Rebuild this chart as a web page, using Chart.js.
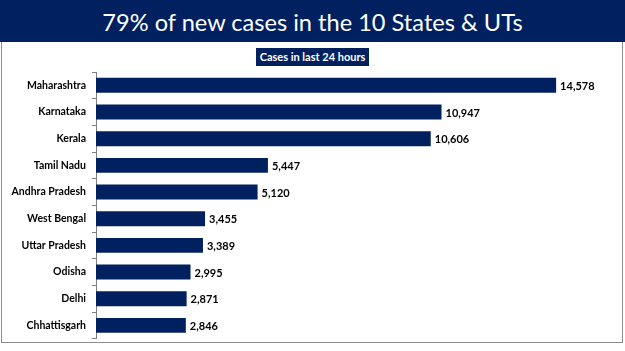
<!DOCTYPE html>
<html>
<head>
<meta charset="utf-8">
<script src="https://cdn.jsdelivr.net/npm/chart.js@4"></script>
<style>
  body { margin: 0; background: #fff; }
  #wrap { position: relative; width: 625px; height: 351px; overflow: hidden; background: #fff; }
  #banner {
    position: absolute; left: 0; top: 0; width: 625px; height: 42px;
    background: #002060; color: #fff;
    font-family: Lato, sans-serif; font-size: 23.6px; line-height: 44px;
    text-align: center;
  }
  #frame {
    position: absolute; left: 1px; top: 42px; width: 620px; height: 300px;
    border: 1px solid #8c8c8c; border-top: none;
  }
  #sub {
    position: absolute; left: 256px; top: 48px; width: 113px; height: 18px;
    background: #002060; color: #fff;
    font-family: Lato, sans-serif; font-weight: bold; font-size: 11px; line-height: 18px;
    text-align: center; white-space: nowrap;
  }
  #chart { position: absolute; left: 0; top: 0; }
</style>
</head>
<body>
<div id="wrap">
  <div id="banner">79% of new cases in the 10 States &amp; UTs</div>
  <div id="frame"></div>
  <div id="sub">Cases in last 24 hours</div>
  <canvas id="chart" width="625" height="351"></canvas>
</div>
<script>
const states = ['Maharashtra', 'Karnataka', 'Kerala', 'Tamil Nadu', 'Andhra Pradesh',
  'West Bengal', 'Uttar Pradesh', 'Odisha', 'Delhi', 'Chhattisgarh'];
const cases = [14578, 10947, 10606, 5447, 5120, 3455, 3389, 2995, 2871, 2846];

// value labels at the end of each bar
const barLabels = {
  id: 'barLabels',
  afterDatasetsDraw(chart) {
    const ctx = chart.ctx;
    const meta = chart.getDatasetMeta(0);
    ctx.save();
    ctx.font = 'bold 11px Lato, sans-serif';
    ctx.fillStyle = '#000';
    ctx.textBaseline = 'middle';
    meta.data.forEach((bar, i) => {
      ctx.fillText(cases[i].toLocaleString('en-US'), bar.x + 4, bar.y + 1);
    });
    ctx.restore();
  }
};

new Chart(document.getElementById('chart'), {
  type: 'bar',
  data: {
    labels: states,
    datasets: [{
      data: cases,
      backgroundColor: '#002060',
      barPercentage: 0.56,
      categoryPercentage: 1
    }]
  },
  options: {
    indexAxis: 'y',
    responsive: false,
    animation: false,
    layout: { padding: { top: 72, bottom: 12, left: 0, right: 24 } },
    scales: {
      x: { display: false, min: 0, max: 16000 },
      y: {
        afterFit: scale => { scale.width = 96; },
        border: { color: '#7f7f7f' },
        grid: { drawOnChartArea: false, tickLength: 4, color: '#7f7f7f' },
        ticks: {
          padding: 6,
          color: '#000',
          font: { family: 'Lato, sans-serif', weight: 'bold', size: 10.5 }
        }
      }
    },
    plugins: {
      legend: { display: false },
      tooltip: { enabled: false }
    }
  },
  plugins: [barLabels]
});
</script>
</body>
</html>
